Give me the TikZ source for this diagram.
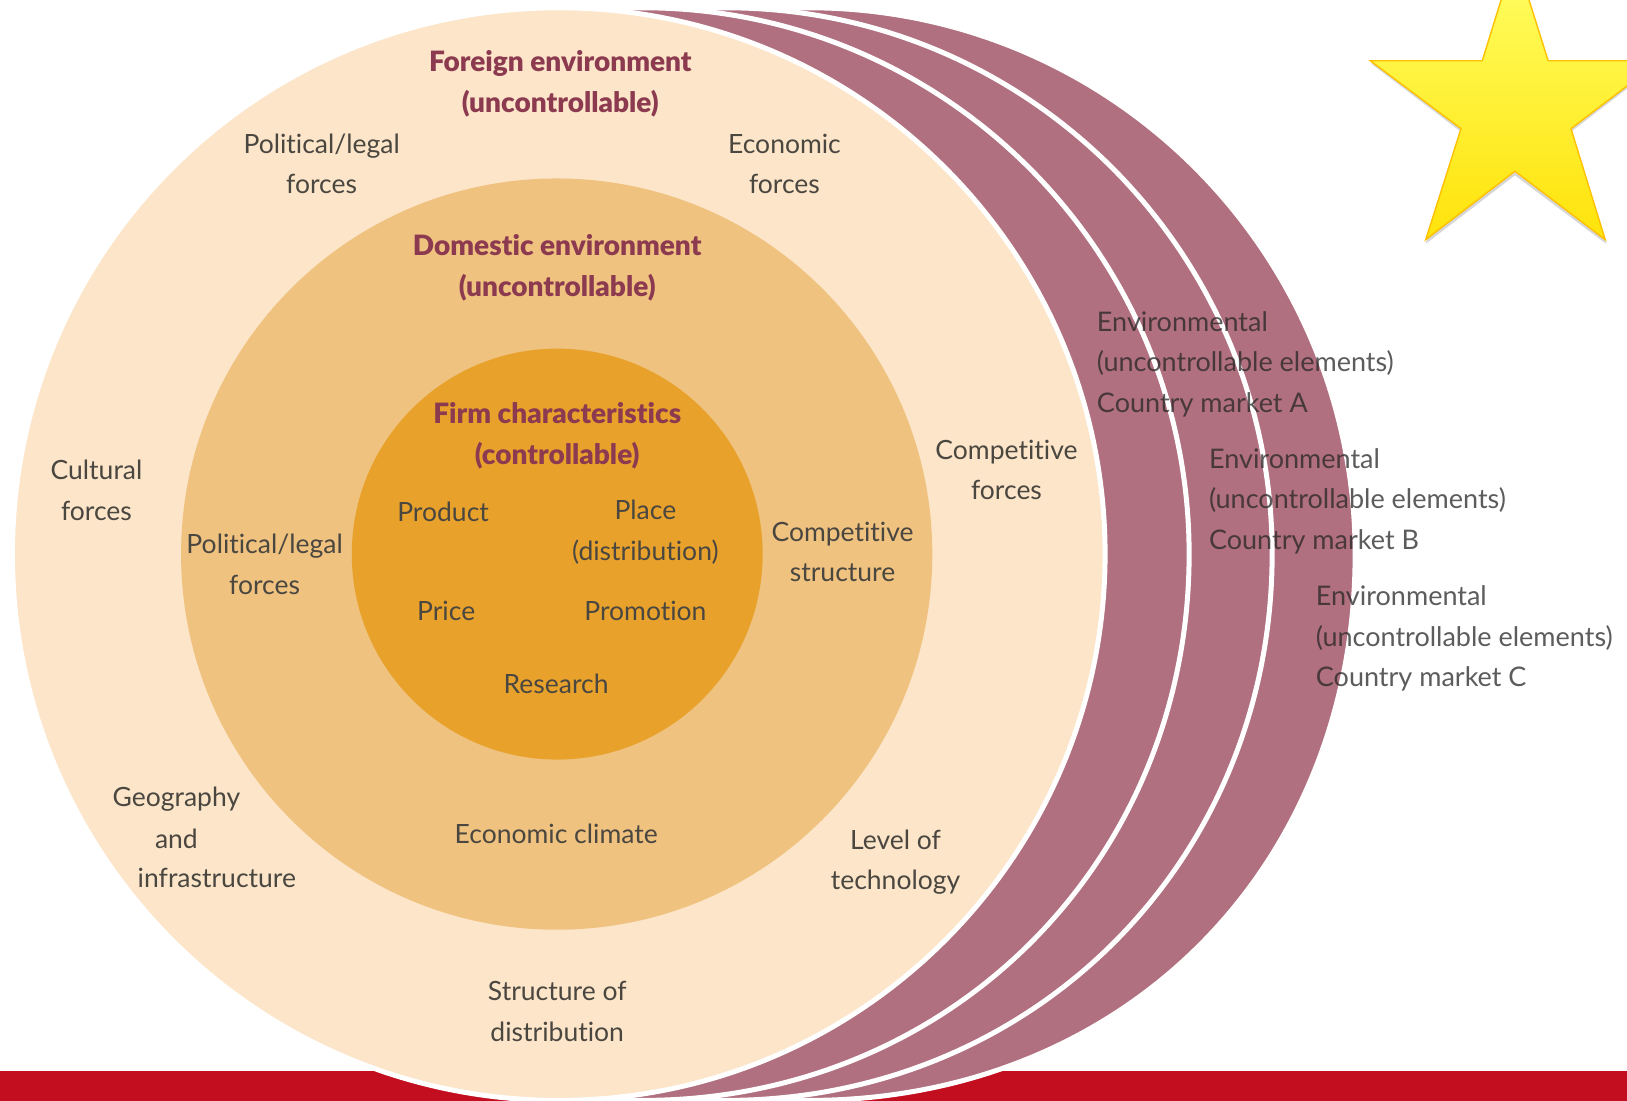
\documentclass[tikz,border=0pt]{standalone}
\usepackage{fontspec}
\setmainfont{Lato}[Ligatures=NoCommon]
\newfontfamily\headf{Lato Black}[Ligatures=NoCommon]
\definecolor{outerc}{HTML}{FCE5C8}
\definecolor{domc}{HTML}{EFC27F}
\definecolor{firmc}{HTML}{E8A22C}
\definecolor{crim}{HTML}{B0707F}
\definecolor{headc}{HTML}{8C3A50}
\definecolor{barc}{HTML}{C30E20}
\definecolor{txtc}{HTML}{4A4640}
\definecolor{stard}{HTML}{FFC000}
\definecolor{starb}{HTML}{FFE30A}
\definecolor{start}{HTML}{FFFF66}
\tikzset{
  disc/.style={line width=5pt,draw=white},
  lab/.style={inner sep=0pt,align=center,text=txtc,font=\fontsize{26.5}{40.5}\selectfont},
  head/.style={inner sep=0pt,align=center,text=headc,font=\fontsize{28}{40.5}\selectfont\headf},
  envlab/.style={inner sep=0pt,align=left,anchor=west,text=black!85,text opacity=.75,font=\fontsize{27}{40.5}\selectfont},
}
\begin{document}
\begin{tikzpicture}[x=1.03763pt,y=-1.03763pt]
\useasboundingbox (0,0) rectangle (1568,1061);
\clip (0,0) rectangle (1568,1061);
\fill[white] (0,0) rectangle (1568,1061);
\fill[barc] (0,1032) rectangle (1568,1061);
% back crescents
\foreach \dx/\kk in {241/.575,161/.562,81/.562}{
  \pgfmathsetmacro{\cc}{538.5+\dx}
  \draw[disc,fill=crim] (\cc,7.5)
    .. controls (\cc+290.8,7.5) and (\cc+526.5,243.2) .. (\cc+526.5,534)
    .. controls (\cc+526.5,534+\kk*526.5) and (\cc+\kk*526.5,1060.5) .. (\cc,1060.5)
    .. controls (\cc-290.8,1060.5) and (\cc-526.5,824.8) .. (\cc-526.5,534)
    .. controls (\cc-526.5,243.2) and (\cc-290.8,7.5) .. (\cc,7.5) -- cycle;
}
\draw[disc,fill=outerc] (538.5,534) circle[radius=526.5];
\fill[domc] (536.5,534) circle[radius=362];
\fill[firmc] (537,534) circle[radius=198];
% star
\path[fill=black,fill opacity=.16] (1321,61) -- (1431,61) -- (1460,-27) -- (1492,61) -- (1600,61) -- (1514,127) -- (1548,235) -- (1460,169) -- (1374,235) -- (1408,127) -- cycle;
\draw[draw=stard,line width=1.4pt,top color=start,bottom color=starb,shading angle=0,line join=miter]
  (1320.5,58.5) -- (1428.5,58.5) -- (1460,-43) -- (1492,58.5) -- (1600,58.5) -- (1514,124) -- (1547,231) -- (1460,165) -- (1374,231) -- (1408,124) -- cycle;
% headings
\node[head] (foreign) at (540,81) {Foreign environment\\(uncontrollable)};
\node[head] (domestic) at (537,258) {Domestic environment\\(uncontrollable)};
\node[head] (firm) at (537,420) {Firm characteristics\\(controllable)};
% outer labels
\node[lab] (polf) at (310,158) {Political/legal\\forces};
\node[lab] (econ) at (756,158) {Economic\\forces};
\node[lab] (cult) at (93,472.5) {Cultural\\forces};
\node[lab] (geoa) at (170,770) {Geography};
\node[lab] (geob) at (170,808) {and};
\node[lab] (geoc) at (209,846) {infrastructure};
\node[lab] (struct) at (537,975) {Structure of\\distribution};
\node[lab] (tech) at (863,831) {Level of\\technology};
\node[lab] (compf) at (970,453) {Competitive\\forces};
% domestic labels
\node[lab] (pold) at (255,544) {Political/legal\\forces};
\node[lab] (comps) at (812,532) {Competitive\\structure};
\node[lab] (eclim) at (536,804) {Economic climate};
% firm labels
\node[lab] (prod) at (427,493) {Product};
\node[lab] (place) at (622,513) {Place\\(distribution)};
\node[lab] (price) at (430,589) {Price};
\node[lab] (promo) at (622,589) {Promotion};
\node[lab] (res) at (536,659) {Research};
% market labels
\node[envlab] (mkta) at (1057,351) {Environmental\\(uncontrollable elements)\\Country market A};
\node[envlab] (mktb) at (1165,483) {Environmental\\(uncontrollable elements)\\Country market B};
\node[envlab] (mktc) at (1268,615.5) {Environmental\\(uncontrollable elements)\\Country market C};
\end{tikzpicture}
\end{document}
